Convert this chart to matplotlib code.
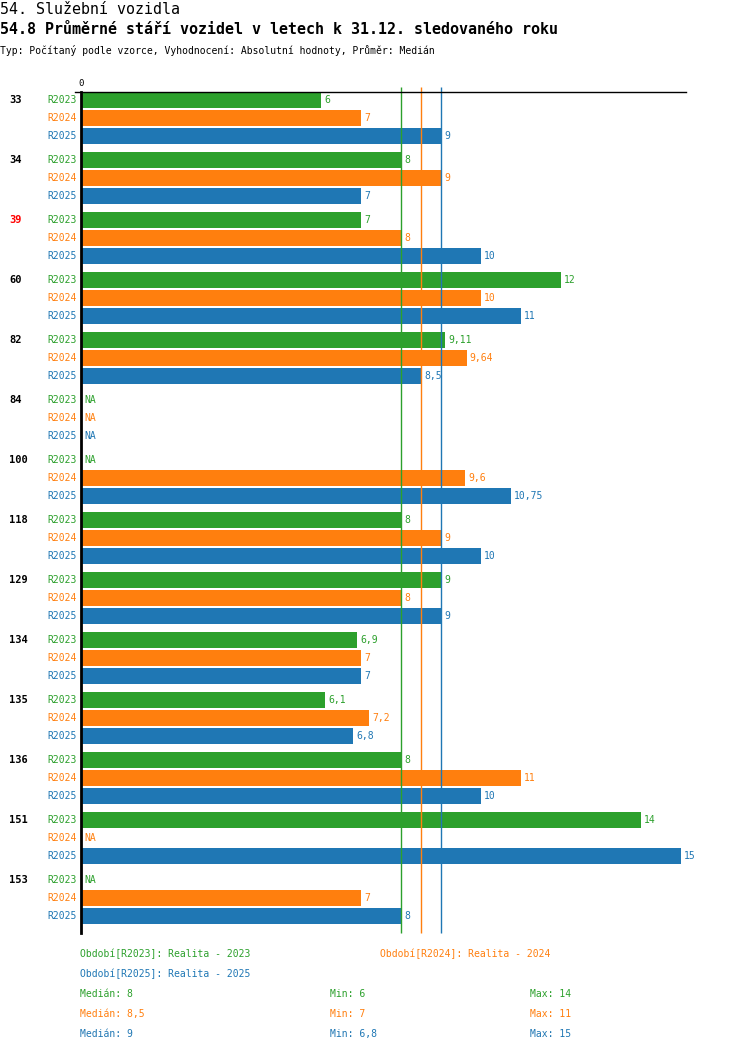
import numpy as np
import matplotlib
matplotlib.use("Agg")
import matplotlib.pyplot as plt

plt.rcParams["font.family"] = ["DejaVu Sans Mono", "DejaVu Sans"]

# --- data ---
categories = ["33", "34", "39", "60", "82", "84", "100", "118", "129", "134", "135", "136", "151", "153"]
series = ["R2023", "R2024", "R2025"]
colors = ["#2ca02c", "#ff7f0e", "#1f77b4"]
nan = np.nan
r2023 = [6, 8, 7, 12, 9.11, nan, nan, 8, 9, 6.9, 6.1, 8, 14, nan]
r2024 = [7, 9, 8, 10, 9.64, nan, 9.6, 9, 8, 7, 7.2, 11, nan, 7]
r2025 = [9, 7, 10, 11, 8.5, nan, 10.75, 10, 9, 7, 6.8, 10, 15, 8]
values = [r2023, r2024, r2025]
medians = [8, 8.5, 9]
mins = [6, 7, 6.8]
maxs = [14, 11, 15]
highlight = {"39": "#ff0000"}
legend_names = ["Období[R2023]: Realita - 2023",
                "Období[R2024]: Realita - 2024",
                "Období[R2025]: Realita - 2025"]


def cz(v):
    s = f"{v:g}"
    return s.replace(".", ",")


W, H = 750, 1052
fig = plt.figure(figsize=(W / 100, H / 100), dpi=100)
ax_l, ax_r, ax_t, ax_b = 81, 686, 92, 933
ax = fig.add_axes([ax_l / W, 1 - ax_b / H, (ax_r - ax_l) / W, (ax_b - ax_t) / H])

px = 40.0  # pixels per unit
ax.set_xlim(0, (ax_r - ax_l) / px)
ax.set_ylim(ax_b - 100, ax_t - 100)  # y data == pixel row - 100

group_step, bar_step, bar_h = 60, 18, 16
for gi, cat in enumerate(categories):
    yc = gi * group_step
    ax.text(-1.8, yc, cat, ha="left", va="center", fontsize=7.5, fontweight="bold",
            color=highlight.get(cat, "black"), clip_on=False)
    for si, name in enumerate(series):
        y = yc + si * bar_step
        v = values[si][gi]
        ax.text(-0.1, y, name, ha="right", va="center", fontsize=7,
                color=colors[si], clip_on=False)
        if np.isnan(v):
            ax.text(0.08, y, "NA", ha="left", va="center", fontsize=7, color=colors[si])
        else:
            ax.barh(y, v, height=bar_h, color=colors[si], linewidth=0)
            ax.text(v + 0.08, y, cz(v), ha="left", va="center", fontsize=7,
                    color=colors[si], clip_on=False)

for si, m in enumerate(medians):
    ax.vlines(m, ax_b - 100, ax_t - 105, color=colors[si], linewidth=1, clip_on=False)

for side in ["right", "bottom", "top"]:
    ax.spines[side].set_visible(False)
ax.spines["left"].set_linewidth(2)
# top rule starts a little left of the axis
ax.plot([-0.15, ax.get_xlim()[1]], [ax_t - 100, ax_t - 100], color="black",
        linewidth=1, clip_on=False)
ax.set_xticks([])
ax.set_yticks([])
ax.text(0, ax_t - 109, "0", ha="center", va="center", fontsize=6.5, clip_on=False)

# --- titles ---
fig.text(0, 1 - 9.5 / H, "54. Služební vozidla", fontsize=10.8, va="center", ha="left")
fig.text(0, 1 - 30 / H, "54.8 Průměrné stáří vozidel v letech k 31.12. sledovaného roku",
         fontsize=10.8, fontweight="bold", va="center", ha="left")
fig.text(0, 1 - 50 / H, "Typ: Počítaný podle vzorce, Vyhodnocení: Absolutní hodnoty, Průměr: Medián",
         fontsize=7, va="center", ha="left")

# --- legend / stats ---
fig.text(80 / W, 1 - 954 / H, legend_names[0], color=colors[0], fontsize=7, va="center")
fig.text(380 / W, 1 - 954 / H, legend_names[1], color=colors[1], fontsize=7, va="center")
fig.text(80 / W, 1 - 974 / H, legend_names[2], color=colors[2], fontsize=7, va="center")
for si in range(3):
    yy = 1 - (994 + 20 * si) / H
    fig.text(80 / W, yy, f"Medián: {cz(medians[si])}", color=colors[si], fontsize=7, va="center")
    fig.text(330 / W, yy, f"Min: {cz(mins[si])}", color=colors[si], fontsize=7, va="center")
    fig.text(530 / W, yy, f"Max: {cz(maxs[si])}", color=colors[si], fontsize=7, va="center")

fig.savefig("out.png", dpi=100)
